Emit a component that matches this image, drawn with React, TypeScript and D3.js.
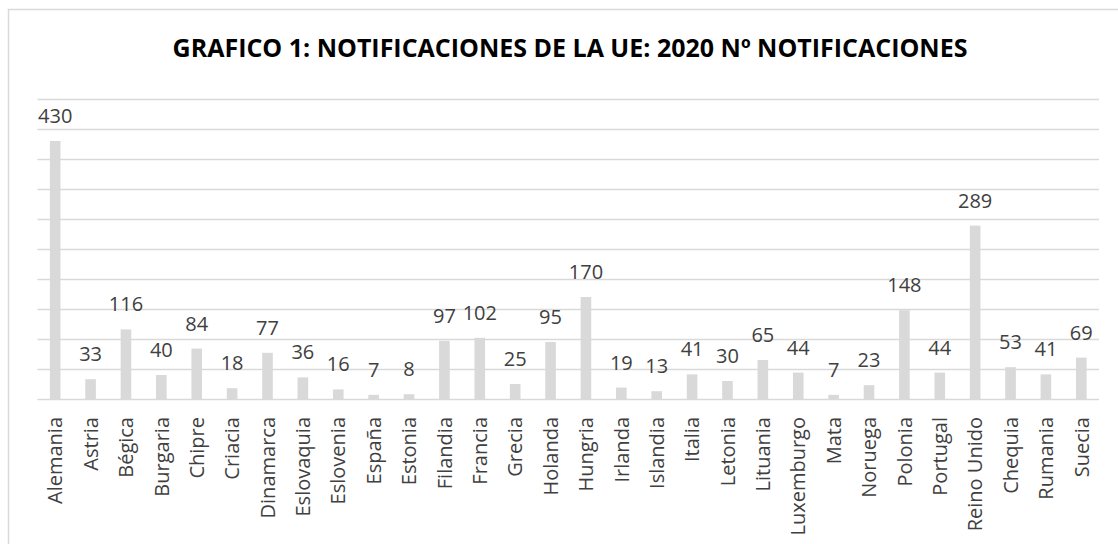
import React, { useEffect, useRef } from "react";
import * as d3 from "d3";

const countries = [
  "Alemania", "Astria", "Bégica", "Burgaria", "Chipre", "Criacia", "Dinamarca",
  "Eslovaquia", "Eslovenia", "España", "Estonia", "Filandia", "Francia", "Grecia",
  "Holanda", "Hungria", "Irlanda", "Islandia", "Italia", "Letonia", "Lituania",
  "Luxemburgo", "Mata", "Noruega", "Polonia", "Portugal", "Reino Unido", "Chequia",
  "Rumania", "Suecia"
];
const notifications = [
  430, 33, 116, 40, 84, 18, 77, 36, 16, 7, 8, 97, 102, 25, 95, 170, 19, 13, 41, 30,
  65, 44, 7, 23, 148, 44, 289, 53, 41, 69
];
const gridTicks = [0, 50, 100, 150, 200, 250, 300, 350, 400, 450, 500];
const title = "GRAFICO 1: NOTIFICACIONES DE LA UE: 2020 Nº NOTIFICACIONES";

const W = 1118;
const H = 544;

function App() {
  const ref = useRef<SVGSVGElement>(null);

  useEffect(() => {
    const svg = d3.select(ref.current);
    svg.selectAll("*").remove();

    const left = 37.5, right = 1099, top = 99, bottom = 399;
    const font = "'Open Sans', sans-serif";

    const data = countries.map((name, i) => ({ name, value: notifications[i] }));

    const x = d3
      .scaleBand()
      .domain(countries)
      .range([left, right])
      .paddingInner(0.7)
      .paddingOuter(0.35);

    const y = d3.scaleLinear().domain([0, 500]).range([bottom, top]);

    // chart border
    svg
      .append("rect")
      .attr("x", 8.5)
      .attr("y", 9.5)
      .attr("width", W)
      .attr("height", H)
      .attr("fill", "white")
      .attr("stroke", "#d9d9d9")
      .attr("stroke-width", 1.5);

    svg
      .append("text")
      .attr("x", 570)
      .attr("y", 57)
      .attr("text-anchor", "middle")
      .style("font-family", font)
      .style("font-weight", "bold")
      .style("font-size", "25px")
      .attr("fill", "#000")
      .text(title);

    svg
      .append("g")
      .selectAll("line")
      .data(gridTicks)
      .enter()
      .append("line")
      .attr("x1", left)
      .attr("x2", right)
      .attr("y1", d => Math.round(y(d)) + 0.5)
      .attr("y2", d => Math.round(y(d)) + 0.5)
      .attr("stroke", "#d9d9d9")
      .attr("stroke-width", 1.5);

    svg
      .append("g")
      .selectAll("rect")
      .data(data)
      .enter()
      .append("rect")
      .attr("x", d => x(d.name)!)
      .attr("width", x.bandwidth())
      .attr("y", d => y(d.value))
      .attr("height", d => y(0) - y(d.value))
      .attr("fill", "#d9d9d9");

    svg
      .append("g")
      .selectAll("text")
      .data(data)
      .enter()
      .append("text")
      .attr("x", d => x(d.name)! + x.bandwidth() / 2)
      .attr("y", d => y(d.value) - 18)
      .attr("text-anchor", "middle")
      .style("font-family", font)
      .style("font-size", "20px")
      .attr("fill", "#404040")
      .text(d => d.value);

    svg
      .append("g")
      .selectAll("text")
      .data(data)
      .enter()
      .append("text")
      .attr(
        "transform",
        d => `translate(${x(d.name)! + x.bandwidth() / 2}, ${bottom + 18}) rotate(-90)`
      )
      .attr("dy", "0.36em")
      .attr("text-anchor", "end")
      .style("font-family", font)
      .style("font-size", "20px")
      .attr("fill", "#404040")
      .text(d => d.name);
  }, []);

  return (
    <svg
      ref={ref}
      width={W}
      height={H}
      style={{ position: "absolute", left: 0, top: 0, background: "white" }}
    />
  );
}

export default App;
